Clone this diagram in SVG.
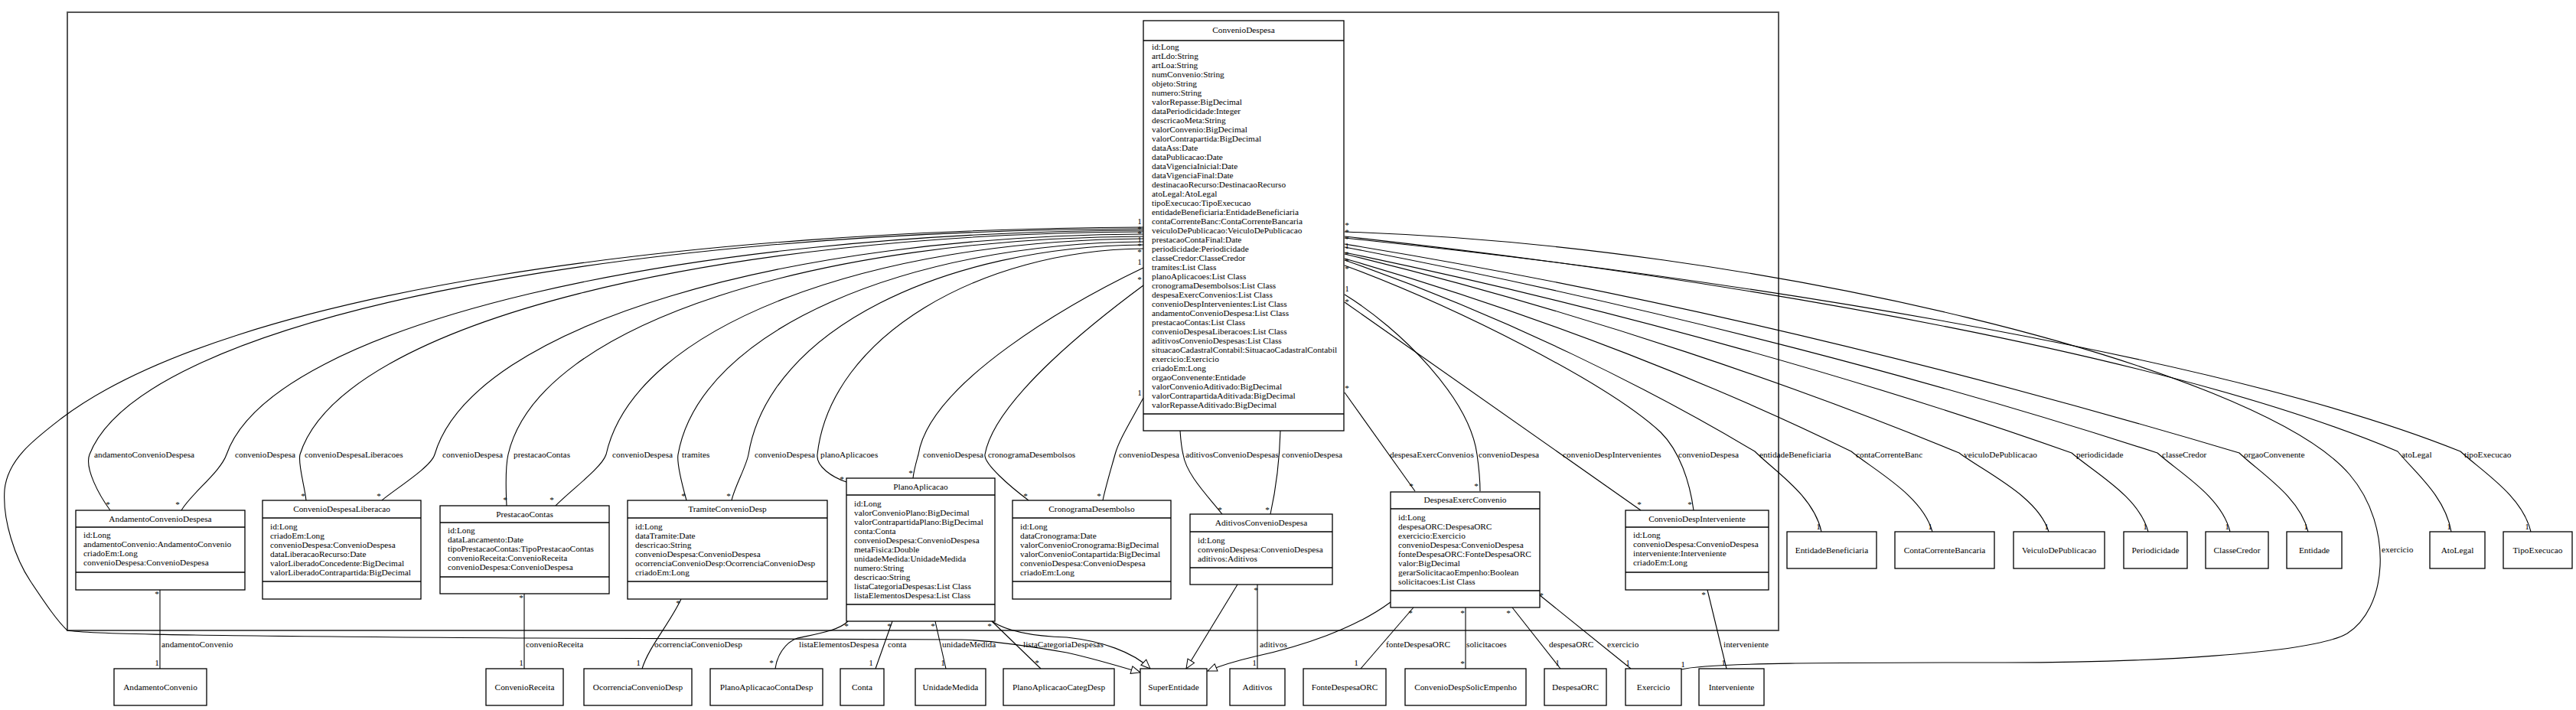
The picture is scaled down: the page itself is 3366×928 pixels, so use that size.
<svg xmlns="http://www.w3.org/2000/svg" width="3366" height="928" viewBox="0 0 3366 928">
<style>
text{font-family:"Liberation Serif","Times New Roman",serif;font-size:11.3px;fill:#000}
.t{text-anchor:middle}
.m{text-anchor:middle}
.box{fill:#fff;stroke:#000;stroke-width:1.3}
.sep{stroke:#000;stroke-width:1.3}
.e{fill:none;stroke:#000;stroke-width:1.1}
.g{fill:none;stroke:#000;stroke-width:1.1;marker-end:url(#tri)}
</style>
<defs>
<marker id="tri" markerUnits="userSpaceOnUse" markerWidth="14" markerHeight="12" refX="13" refY="6" orient="auto">
<path d="M1,1 L13,6 L1,11 z" fill="#fff" stroke="#000" stroke-width="1"/>
</marker>
</defs>
<rect x="0" y="0" width="3366" height="928" fill="#fff"/>
<rect x="88" y="16" width="2236" height="808" fill="none" stroke="#555" stroke-width="2"/>

<g id="connectors">
<!-- generalization ConvenioDespesa -> SuperEntidade -->
<path class="g" d="M1494,297 C900,300 300,380 80,547 C45,574 10,600 6,640 C3,680 20,730 40,760 C60,790 75,812 88,824 C110,828 200,831 700,834 L1256,836 C1290,837 1330,842 1394,853 C1430,861 1460,870 1490,879"/>
<!-- left associations -->
<path class="e" d="M1494,299 C805,301 186,417 117,594 C110,612 130,648 144,667"/>
<path class="e" d="M1494,301 C895,303 356,422 296,594 C288,617 250,645 237,667"/>
<path class="e" d="M1494,303 C943,305 447,419 392,594 C389,606 398,635 400,654"/>
<path class="e" d="M1494,306 C1031,308 618,424 568,594 C563,611 515,640 499,654"/>
<path class="e" d="M1494,309 C1079,311 704,420 664,594 C660,612 661,640 662,661"/>
<path class="e" d="M1494,312 C1143,314 830,424 792,594 C786,612 744,642 726,661"/>
<path class="e" d="M1494,316 C1190,318 915,430 886,594 C884,606 892,636 897,654"/>
<path class="e" d="M1494,320 C1236,322 1005,430 978,594 C975,610 960,636 956,654"/>
<path class="e" d="M1494,325 C1281,327 1085,440 1068,594 C1066,610 1088,624 1106,630"/>
<path class="e" d="M1494,350 C1400,395 1215,500 1200,594 C1197,605 1194,615 1193,625"/>
<path class="e" d="M1494,373 C1440,413 1300,520 1287,594 C1285,606 1320,636 1344,654"/>
<path class="e" d="M1494,520 C1478,550 1462,575 1457,594 C1452,612 1445,635 1441,654"/>
<path class="e" d="M1542,563 C1543,578 1544,586 1546,594 C1550,620 1578,648 1597,672"/>
<path class="e" d="M1673,563 C1672,600 1667,640 1660,672"/>
<!-- right associations -->
<path class="e" d="M1757,303 C2300,320 2950,480 3070,620 C3100,655 3112,700 3110,740 C3108,780 3092,812 3067,828 C3020,855 2800,866 2620,866 C2400,866 2230,866 2197,875"/>
<path class="e" d="M1757,309 C2307,370 2850,470 3133,590 C3154,616 3195,648 3203,695"/>
<path class="e" d="M1757,311 C2340,372 2930,475 3215,590 C3243,616 3296,648 3307,695"/>
<path class="e" d="M1757,319 C2225,395 2634,505 2926,592 C2953,618 3005,649 3016,695"/>
<path class="e" d="M1757,323 C2182,404 2554,506 2819,592 C2848,618 2903,649 2914,695"/>
<path class="e" d="M1757,330 C2137,409 2470,508 2707,592 C2737,618 2795,649 2807,695"/>
<path class="e" d="M1757,332 C2078,410 2359,509 2560,592 C2595,618 2663,649 2677,695"/>
<path class="e" d="M1757,338 C2022,414 2254,509 2419,590 C2451,616 2512,648 2525,695"/>
<path class="e" d="M1757,340 C1971,415 2159,510 2293,590 C2319,616 2370,648 2380,695"/>
<path class="e" d="M1757,347 C1900,400 2100,500 2170,565 C2195,590 2208,630 2213,667"/>
<path class="e" d="M1757,395 L2144,667"/>
<path class="e" d="M1757,385 C1830,430 1920,520 1930,594 C1933,615 1934,630 1934,642"/>
<path class="e" d="M1757,513 L1849,642"/>
<!-- bottom associations -->
<path class="e" d="M209,771 L209,874"/>
<path class="e" d="M685,776 L685,874"/>
<path class="e" d="M890,783 C875,815 848,845 839,874"/>
<path class="e" d="M1108,812 C1095,825 1065,829 1042,834 C1025,840 1015,858 1013,874"/>
<path class="e" d="M1166,812 L1144,874"/>
<path class="e" d="M1222,812 L1236,874"/>
<path class="e" d="M1296,812 L1360,874"/>
<path class="g" d="M1296,812 C1320,828 1360,832 1394,833 C1440,838 1480,852 1503,874"/>
<path class="e" d="M1643,764 L1643,874"/>
<path class="g" d="M1617,764 L1550,874"/>
<path class="e" d="M1847,794 L1778,874"/>
<path class="e" d="M1915,794 L1915,874"/>
<path class="e" d="M1976,794 L2039,874"/>
<path class="e" d="M2012,778 L2131,874"/>
<path class="g" d="M1817,787 C1770,822 1700,845 1640,858 C1610,865 1590,872 1578,877"/>
<path class="e" d="M2231,771 L2256,874"/>
<!-- role labels -->
<text x="123" y="598">andamentoConvenioDespesa</text>
<text x="307" y="598">convenioDespesa</text>
<text x="398" y="598">convenioDespesaLiberacoes</text>
<text x="578" y="598">convenioDespesa</text>
<text x="671" y="598">prestacaoContas</text>
<text x="800" y="598">convenioDespesa</text>
<text x="891" y="598">tramites</text>
<text x="986" y="598">convenioDespesa</text>
<text x="1072" y="598">planoAplicacoes</text>
<text x="1206" y="598">convenioDespesa</text>
<text x="1291" y="598">cronogramaDesembolsos</text>
<text x="1462" y="598">convenioDespesa</text>
<text x="1549" y="598">aditivosConvenioDespesas</text>
<text x="1675" y="598">convenioDespesa</text>
<text x="1816" y="598">despesaExercConvenios</text>
<text x="1932" y="598">convenioDespesa</text>
<text x="2042" y="598">convenioDespIntervenientes</text>
<text x="2193" y="598">convenioDespesa</text>
<text x="2299" y="598">entidadeBeneficiaria</text>
<text x="2425" y="598">contaCorrenteBanc</text>
<text x="2566" y="598">veiculoDePublicacao</text>
<text x="2713" y="598">periodicidade</text>
<text x="2825" y="598">classeCredor</text>
<text x="2932" y="598">orgaoConvenente</text>
<text x="3112" y="722">exercicio</text>
<text x="3138" y="598">atoLegal</text>
<text x="3220" y="598">tipoExecucao</text>
<text x="211" y="846">andamentoConvenio</text>
<text x="687" y="846">convenioReceita</text>
<text x="855" y="846">ocorrenciaConvenioDesp</text>
<text x="1044" y="846">listaElementosDespesa</text>
<text x="1160" y="846">conta</text>
<text x="1231" y="846">unidadeMedida</text>
<text x="1337" y="846">listaCategoriaDespesas</text>
<text x="1646" y="846">aditivos</text>
<text x="1811" y="846">fonteDespesaORC</text>
<text x="1916" y="846">solicitacoes</text>
<text x="2024" y="846">despesaORC</text>
<text x="2100" y="846">exercicio</text>
<text x="2252" y="846">interveniente</text>
<!-- multiplicities -->
<text class="m" x="1489" y="293">1</text>
<text class="m" x="1489" y="303">*</text>
<text class="m" x="1496" y="303">*</text>
<text class="m" x="1489" y="309">*</text>
<text class="m" x="1489" y="317">1</text>
<text class="m" x="1495" y="317">1</text>
<text class="m" x="1489" y="325">*</text>
<text class="m" x="1489" y="333">*</text>
<text class="m" x="1489" y="346">1</text>
<text class="m" x="1489" y="369">*</text>
<text class="m" x="1489" y="517">1</text>
<text class="m" x="1537" y="563">*</text>
<text class="m" x="1670" y="562">1</text>
<text class="m" x="1760" y="298">*</text>
<text class="m" x="1760" y="307">*</text>
<text class="m" x="1760" y="316">*</text>
<text class="m" x="1753" y="319">*</text>
<text class="m" x="1760" y="325">1</text>
<text class="m" x="1760" y="336">*</text>
<text class="m" x="1753" y="341">1</text>
<text class="m" x="1760" y="345">*</text>
<text class="m" x="1760" y="355">*</text>
<text class="m" x="1760" y="381">1</text>
<text class="m" x="1760" y="398">*</text>
<text class="m" x="1760" y="511">*</text>
<text class="m" x="141" y="663">*</text>
<text class="m" x="232" y="663">*</text>
<text class="m" x="396" y="652">*</text>
<text class="m" x="495" y="652">*</text>
<text class="m" x="660" y="657">*</text>
<text class="m" x="721" y="657">*</text>
<text class="m" x="893" y="652">*</text>
<text class="m" x="952" y="652">*</text>
<text class="m" x="1100" y="630">*</text>
<text class="m" x="1190" y="622">*</text>
<text class="m" x="1340" y="652">*</text>
<text class="m" x="1436" y="652">*</text>
<text class="m" x="1594" y="670">*</text>
<text class="m" x="1656" y="670">*</text>
<text class="m" x="1844" y="639">*</text>
<text class="m" x="1929" y="639">*</text>
<text class="m" x="2142" y="663">*</text>
<text class="m" x="2208" y="663">*</text>
<text class="m" x="2376" y="692">1</text>
<text class="m" x="2522" y="692">1</text>
<text class="m" x="2674" y="692">1</text>
<text class="m" x="2803" y="692">1</text>
<text class="m" x="2910" y="692">1</text>
<text class="m" x="3013" y="692">1</text>
<text class="m" x="3200" y="692">1</text>
<text class="m" x="3302" y="692">1</text>
<text class="m" x="205" y="780">*</text>
<text class="m" x="205" y="870">1</text>
<text class="m" x="681" y="785">*</text>
<text class="m" x="681" y="870">1</text>
<text class="m" x="886" y="792">*</text>
<text class="m" x="834" y="870">1</text>
<text class="m" x="1106" y="822">*</text>
<text class="m" x="1008" y="870">*</text>
<text class="m" x="1162" y="822">*</text>
<text class="m" x="1138" y="870">1</text>
<text class="m" x="1219" y="822">*</text>
<text class="m" x="1232" y="870">1</text>
<text class="m" x="1293" y="822">*</text>
<text class="m" x="1355" y="870">*</text>
<text class="m" x="1641" y="775">*</text>
<text class="m" x="1639" y="870">1</text>
<text class="m" x="1843" y="805">*</text>
<text class="m" x="1772" y="870">1</text>
<text class="m" x="1911" y="805">*</text>
<text class="m" x="1911" y="871">*</text>
<text class="m" x="1971" y="805">*</text>
<text class="m" x="2035" y="870">1</text>
<text class="m" x="2014" y="782">*</text>
<text class="m" x="2127" y="870">1</text>
<text class="m" x="2226" y="781">*</text>
<text class="m" x="2252" y="870">1</text>
<text class="m" x="2199" y="872">1</text>
</g>

<g id="ConvenioDespesa">
<rect class="box" x="1494" y="27" width="262" height="536"/>
<line class="sep" x1="1494" y1="53" x2="1756" y2="53"/>
<line class="sep" x1="1494" y1="541" x2="1756" y2="541"/>
<text class="t" x="1625" y="43">ConvenioDespesa</text>
<text x="1505" y="65">id:Long<tspan x="1505" dy="12">artLdo:String</tspan><tspan x="1505" dy="12">artLoa:String</tspan><tspan x="1505" dy="12">numConvenio:String</tspan><tspan x="1505" dy="12">objeto:String</tspan><tspan x="1505" dy="12">numero:String</tspan><tspan x="1505" dy="12">valorRepasse:BigDecimal</tspan><tspan x="1505" dy="12">dataPeriodicidade:Integer</tspan><tspan x="1505" dy="12">descricaoMeta:String</tspan><tspan x="1505" dy="12">valorConvenio:BigDecimal</tspan><tspan x="1505" dy="12">valorContrapartida:BigDecimal</tspan><tspan x="1505" dy="12">dataAss:Date</tspan><tspan x="1505" dy="12">dataPublicacao:Date</tspan><tspan x="1505" dy="12">dataVigenciaInicial:Date</tspan><tspan x="1505" dy="12">dataVigenciaFinal:Date</tspan><tspan x="1505" dy="12">destinacaoRecurso:DestinacaoRecurso</tspan><tspan x="1505" dy="12">atoLegal:AtoLegal</tspan><tspan x="1505" dy="12">tipoExecucao:TipoExecucao</tspan><tspan x="1505" dy="12">entidadeBeneficiaria:EntidadeBeneficiaria</tspan><tspan x="1505" dy="12">contaCorrenteBanc:ContaCorrenteBancaria</tspan><tspan x="1505" dy="12">veiculoDePublicacao:VeiculoDePublicacao</tspan><tspan x="1505" dy="12">prestacaoContaFinal:Date</tspan><tspan x="1505" dy="12">periodicidade:Periodicidade</tspan><tspan x="1505" dy="12">classeCredor:ClasseCredor</tspan><tspan x="1505" dy="12">tramites:List Class</tspan><tspan x="1505" dy="12">planoAplicacoes:List Class</tspan><tspan x="1505" dy="12">cronogramaDesembolsos:List Class</tspan><tspan x="1505" dy="12">despesaExercConvenios:List Class</tspan><tspan x="1505" dy="12">convenioDespIntervenientes:List Class</tspan><tspan x="1505" dy="12">andamentoConvenioDespesa:List Class</tspan><tspan x="1505" dy="12">prestacaoContas:List Class</tspan><tspan x="1505" dy="12">convenioDespesaLiberacoes:List Class</tspan><tspan x="1505" dy="12">aditivosConvenioDespesas:List Class</tspan><tspan x="1505" dy="12">situacaoCadastralContabil:SituacaoCadastralContabil</tspan><tspan x="1505" dy="12">exercicio:Exercicio</tspan><tspan x="1505" dy="12">criadoEm:Long</tspan><tspan x="1505" dy="12">orgaoConvenente:Entidade</tspan><tspan x="1505" dy="12">valorConvenioAditivado:BigDecimal</tspan><tspan x="1505" dy="12">valorContrapartidaAditivada:BigDecimal</tspan><tspan x="1505" dy="12">valorRepasseAditivado:BigDecimal</tspan></text>
</g>

<g id="AndamentoConvenioDespesa">
<rect class="box" x="99" y="667" width="221" height="104"/>
<line class="sep" x1="99" y1="689" x2="320" y2="689"/>
<line class="sep" x1="99" y1="748" x2="320" y2="748"/>
<text class="t" x="209.5" y="682">AndamentoConvenioDespesa</text>
<text x="109" y="703">id:Long<tspan x="109" dy="12">andamentoConvenio:AndamentoConvenio</tspan><tspan x="109" dy="12">criadoEm:Long</tspan><tspan x="109" dy="12">convenioDespesa:ConvenioDespesa</tspan></text>
</g>

<g id="ConvenioDespesaLiberacao">
<rect class="box" x="343" y="654" width="207" height="129"/>
<line class="sep" x1="343" y1="677" x2="550" y2="677"/>
<line class="sep" x1="343" y1="760" x2="550" y2="760"/>
<text class="t" x="446.5" y="669">ConvenioDespesaLiberacao</text>
<text x="353" y="692">id:Long<tspan x="353" dy="12">criadoEm:Long</tspan><tspan x="353" dy="12">convenioDespesa:ConvenioDespesa</tspan><tspan x="353" dy="12">dataLiberacaoRecurso:Date</tspan><tspan x="353" dy="12">valorLiberadoConcedente:BigDecimal</tspan><tspan x="353" dy="12">valorLiberadoContrapartida:BigDecimal</tspan></text>
</g>

<g id="PrestacaoContas">
<rect class="box" x="575" y="661" width="221" height="115"/>
<line class="sep" x1="575" y1="683" x2="796" y2="683"/>
<line class="sep" x1="575" y1="754" x2="796" y2="754"/>
<text class="t" x="685.5" y="676">PrestacaoContas</text>
<text x="585" y="697">id:Long<tspan x="585" dy="12">dataLancamento:Date</tspan><tspan x="585" dy="12">tipoPrestacaoContas:TipoPrestacaoContas</tspan><tspan x="585" dy="12">convenioReceita:ConvenioReceita</tspan><tspan x="585" dy="12">convenioDespesa:ConvenioDespesa</tspan></text>
</g>

<g id="TramiteConvenioDesp">
<rect class="box" x="820" y="654" width="261" height="129"/>
<line class="sep" x1="820" y1="677" x2="1081" y2="677"/>
<line class="sep" x1="820" y1="760" x2="1081" y2="760"/>
<text class="t" x="950.5" y="669">TramiteConvenioDesp</text>
<text x="830" y="692">id:Long<tspan x="830" dy="12">dataTramite:Date</tspan><tspan x="830" dy="12">descricao:String</tspan><tspan x="830" dy="12">convenioDespesa:ConvenioDespesa</tspan><tspan x="830" dy="12">ocorrenciaConvenioDesp:OcorrenciaConvenioDesp</tspan><tspan x="830" dy="12">criadoEm:Long</tspan></text>
</g>

<g id="PlanoAplicacao">
<rect class="box" x="1106" y="625" width="194" height="187"/>
<line class="sep" x1="1106" y1="647" x2="1300" y2="647"/>
<line class="sep" x1="1106" y1="790" x2="1300" y2="790"/>
<text class="t" x="1203" y="640">PlanoAplicacao</text>
<text x="1116" y="662">id:Long<tspan x="1116" dy="12">valorConvenioPlano:BigDecimal</tspan><tspan x="1116" dy="12">valorContrapartidaPlano:BigDecimal</tspan><tspan x="1116" dy="12">conta:Conta</tspan><tspan x="1116" dy="12">convenioDespesa:ConvenioDespesa</tspan><tspan x="1116" dy="12">metaFisica:Double</tspan><tspan x="1116" dy="12">unidadeMedida:UnidadeMedida</tspan><tspan x="1116" dy="12">numero:String</tspan><tspan x="1116" dy="12">descricao:String</tspan><tspan x="1116" dy="12">listaCategoriaDespesas:List Class</tspan><tspan x="1116" dy="12">listaElementosDespesa:List Class</tspan></text>
</g>

<g id="CronogramaDesembolso">
<rect class="box" x="1323" y="654" width="207" height="129"/>
<line class="sep" x1="1323" y1="677" x2="1530" y2="677"/>
<line class="sep" x1="1323" y1="760" x2="1530" y2="760"/>
<text class="t" x="1426.5" y="669">CronogramaDesembolso</text>
<text x="1333" y="692">id:Long<tspan x="1333" dy="12">dataCronograma:Date</tspan><tspan x="1333" dy="12">valorConvenioCronograma:BigDecimal</tspan><tspan x="1333" dy="12">valorConvenioContapartida:BigDecimal</tspan><tspan x="1333" dy="12">convenioDespesa:ConvenioDespesa</tspan><tspan x="1333" dy="12">criadoEm:Long</tspan></text>
</g>

<g id="AditivosConvenioDespesa">
<rect class="box" x="1555" y="672" width="186" height="92"/>
<line class="sep" x1="1555" y1="695" x2="1741" y2="695"/>
<line class="sep" x1="1555" y1="742" x2="1741" y2="742"/>
<text class="t" x="1648" y="687">AditivosConvenioDespesa</text>
<text x="1565" y="710">id:Long<tspan x="1565" dy="12">convenioDespesa:ConvenioDespesa</tspan><tspan x="1565" dy="12">aditivos:Aditivos</tspan></text>
</g>

<g id="DespesaExercConvenio">
<rect class="box" x="1817" y="643" width="195" height="151"/>
<line class="sep" x1="1817" y1="665" x2="2012" y2="665"/>
<line class="sep" x1="1817" y1="772" x2="2012" y2="772"/>
<text class="t" x="1914.5" y="657">DespesaExercConvenio</text>
<text x="1827" y="680">id:Long<tspan x="1827" dy="12">despesaORC:DespesaORC</tspan><tspan x="1827" dy="12">exercicio:Exercicio</tspan><tspan x="1827" dy="12">convenioDespesa:ConvenioDespesa</tspan><tspan x="1827" dy="12">fonteDespesaORC:FonteDespesaORC</tspan><tspan x="1827" dy="12">valor:BigDecimal</tspan><tspan x="1827" dy="12">gerarSolicitacaoEmpenho:Boolean</tspan><tspan x="1827" dy="12">solicitacoes:List Class</tspan></text>
</g>

<g id="ConvenioDespInterveniente">
<rect class="box" x="2124" y="667" width="187" height="104"/>
<line class="sep" x1="2124" y1="689" x2="2311" y2="689"/>
<line class="sep" x1="2124" y1="748" x2="2311" y2="748"/>
<text class="t" x="2217.5" y="682">ConvenioDespInterveniente</text>
<text x="2134" y="703">id:Long<tspan x="2134" dy="12">convenioDespesa:ConvenioDespesa</tspan><tspan x="2134" dy="12">interveniente:Interveniente</tspan><tspan x="2134" dy="12">criadoEm:Long</tspan></text>
</g>

<g id="AndamentoConvenio"><rect class="box" x="149" y="874" width="121" height="48"/><text class="t" x="209.5" y="902">AndamentoConvenio</text></g>
<g id="ConvenioReceita"><rect class="box" x="635" y="874" width="101" height="48"/><text class="t" x="685.5" y="902">ConvenioReceita</text></g>
<g id="OcorrenciaConvenioDesp"><rect class="box" x="763" y="874" width="141" height="48"/><text class="t" x="833.5" y="902">OcorrenciaConvenioDesp</text></g>
<g id="PlanoAplicacaoContaDesp"><rect class="box" x="928" y="874" width="147" height="48"/><text class="t" x="1001.5" y="902">PlanoAplicacaoContaDesp</text></g>
<g id="Conta"><rect class="box" x="1098" y="874" width="57" height="48"/><text class="t" x="1126.5" y="902">Conta</text></g>
<g id="UnidadeMedida"><rect class="box" x="1196" y="874" width="92" height="48"/><text class="t" x="1242" y="902">UnidadeMedida</text></g>
<g id="PlanoAplicacaoCategDesp"><rect class="box" x="1311" y="874" width="145" height="48"/><text class="t" x="1383.5" y="902">PlanoAplicacaoCategDesp</text></g>
<g id="SuperEntidade"><rect class="box" x="1490" y="874" width="87" height="48"/><text class="t" x="1533.5" y="902">SuperEntidade</text></g>
<g id="Aditivos"><rect class="box" x="1607" y="874" width="72" height="48"/><text class="t" x="1643" y="902">Aditivos</text></g>
<g id="FonteDespesaORC"><rect class="box" x="1703" y="874" width="108" height="48"/><text class="t" x="1757" y="902">FonteDespesaORC</text></g>
<g id="ConvenioDespSolicEmpenho"><rect class="box" x="1836" y="874" width="158" height="48"/><text class="t" x="1915" y="902">ConvenioDespSolicEmpenho</text></g>
<g id="DespesaORC"><rect class="box" x="2018" y="874" width="81" height="48"/><text class="t" x="2058.5" y="902">DespesaORC</text></g>
<g id="Exercicio"><rect class="box" x="2124" y="874" width="73" height="48"/><text class="t" x="2160.5" y="902">Exercicio</text></g>
<g id="Interveniente"><rect class="box" x="2220" y="874" width="85" height="48"/><text class="t" x="2262.5" y="902">Interveniente</text></g>

<g id="EntidadeBeneficiaria"><rect class="box" x="2335" y="695" width="117" height="48"/><text class="t" x="2393.5" y="723">EntidadeBeneficiaria</text></g>
<g id="ContaCorrenteBancaria"><rect class="box" x="2476" y="695" width="130" height="48"/><text class="t" x="2541" y="723">ContaCorrenteBancaria</text></g>
<g id="VeiculoDePublicacao"><rect class="box" x="2631" y="695" width="119" height="48"/><text class="t" x="2690.5" y="723">VeiculoDePublicacao</text></g>
<g id="Periodicidade"><rect class="box" x="2775" y="695" width="83" height="48"/><text class="t" x="2816.5" y="723">Periodicidade</text></g>
<g id="ClasseCredor"><rect class="box" x="2882" y="695" width="82" height="48"/><text class="t" x="2923" y="723">ClasseCredor</text></g>
<g id="Entidade"><rect class="box" x="2988" y="695" width="72" height="48"/><text class="t" x="3024" y="723">Entidade</text></g>
<g id="AtoLegal"><rect class="box" x="3175" y="695" width="72" height="48"/><text class="t" x="3211" y="723">AtoLegal</text></g>
<g id="TipoExecucao"><rect class="box" x="3271" y="695" width="90" height="48"/><text class="t" x="3316" y="723">TipoExecucao</text></g>
</svg>
